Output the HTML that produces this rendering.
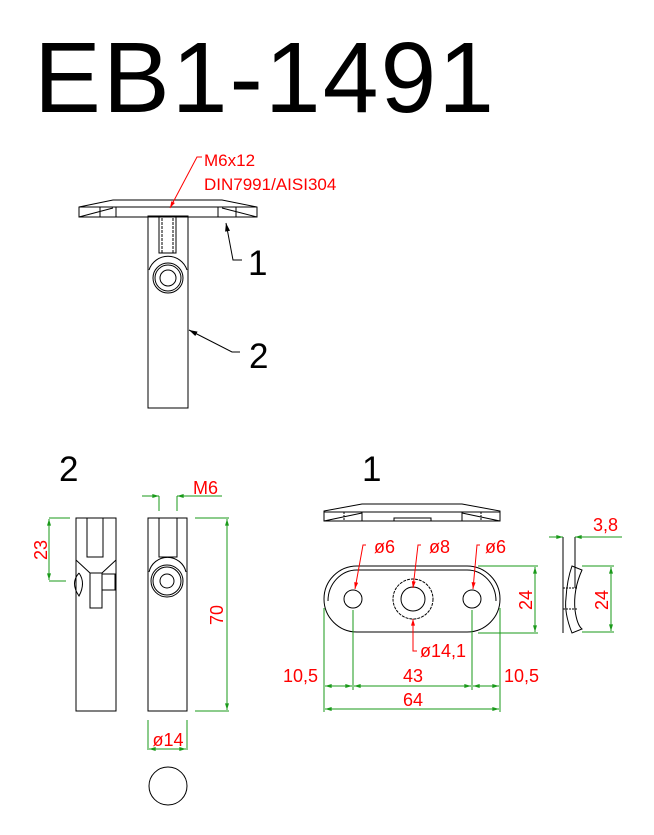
<!DOCTYPE html>
<html><head><style>body{margin:0;background:#fff}svg{display:block}</style></head><body>
<svg width="654" height="835" viewBox="0 0 654 835" xmlns="http://www.w3.org/2000/svg" font-family="Liberation Sans, sans-serif">
<defs>
<marker id="ag" viewBox="0 0 10 6" refX="10" refY="3" markerWidth="8" markerHeight="4" orient="auto-start-reverse"><path d="M0,0L10,3L0,6z" fill="#1a9a1a"/></marker>
<marker id="ar" viewBox="0 0 10 6" refX="10" refY="3" markerWidth="8" markerHeight="4" orient="auto"><path d="M0,0L10,3L0,6z" fill="red"/></marker>
<marker id="ak" viewBox="0 0 10 6" refX="10" refY="3" markerWidth="9" markerHeight="5" orient="auto"><path d="M0,0L10,3L0,6z" fill="#000"/></marker>
</defs>
<text x="34" y="112" font-size="100" letter-spacing="2" fill="#000" textLength="462" lengthAdjust="spacingAndGlyphs">EB1-1491</text>
<!-- top assembly -->
<g fill="none" stroke="#000" stroke-width="1">
<path d="M79,207 L113,200 L222,200 L257,207 L257,217 L79,217 Z"/>
<line x1="79" y1="207" x2="257" y2="207"/>
<path d="M79,217 L113,208 M257,217 L222,208"/>
<line x1="100" y1="207" x2="100" y2="217"/><line x1="116" y1="207" x2="116" y2="217"/>
<line x1="218" y1="207" x2="218" y2="217"/><line x1="236" y1="207" x2="236" y2="217"/>
<rect x="148" y="216" width="40" height="192"/>
<rect x="159" y="216" width="17" height="37"/>
<line x1="162" y1="218" x2="162" y2="253" stroke-dasharray="3,1"/><line x1="173" y1="218" x2="173" y2="253" stroke-dasharray="3,1"/>
<path d="M149,270 A20,20 0 0 1 187,270"/>
<circle cx="168" cy="278" r="15"/><circle cx="168" cy="278" r="13"/><circle cx="168" cy="278" r="8"/>
</g>
<text x="204" y="166" font-size="17" fill="red">M6x12</text>
<text x="204" y="190" font-size="17" fill="red">DIN7991/AISI304</text>
<polyline points="202,157 197,157 170,208" fill="none" stroke="red" marker-end="url(#ar)"/>
<polyline points="242,260 233,260 226,223" fill="none" stroke="#000" marker-end="url(#ak)"/>
<polyline points="240,352 232,352 189,330" fill="none" stroke="#000" marker-end="url(#ak)"/>
<text x="248" y="275" font-size="35">1</text>
<text x="249" y="368" font-size="35">2</text>
<text x="59" y="481" font-size="35">2</text>
<text x="362" y="481" font-size="35">1</text>
<!-- part 2 views -->
<g fill="none" stroke="#000" stroke-width="1">
<rect x="76" y="518" width="40" height="193"/>
<rect x="87" y="518" width="16" height="39"/>
<path d="M76,560 L90,573 L102,573 L116,560"/>
<path d="M79,573 Q70,583 79,596 Q86,583 79,573"/>
<rect x="90" y="573" width="12" height="35"/><rect x="102" y="574" width="13" height="16"/>
<rect x="148" y="518" width="39" height="193"/>
<rect x="159" y="518" width="18" height="39"/>
<path d="M149,572 A19,19 0 0 1 186,572"/>
<circle cx="167" cy="581" r="16"/><circle cx="167" cy="581" r="14"/><circle cx="167" cy="581" r="7"/>
<circle cx="168" cy="786" r="19"/>
</g>
<g stroke="#1a9a1a" fill="none" stroke-width="1">
<line x1="49" y1="518" x2="70" y2="518"/><line x1="49" y1="581" x2="66" y2="581"/>
<line x1="49" y1="519" x2="49" y2="580" marker-start="url(#ag)" marker-end="url(#ag)"/>
<line x1="195" y1="518" x2="229" y2="518"/><line x1="195" y1="711" x2="229" y2="711"/>
<line x1="227" y1="519" x2="227" y2="710" marker-start="url(#ag)" marker-end="url(#ag)"/>
<line x1="159" y1="496" x2="159" y2="511"/><line x1="177" y1="496" x2="177" y2="511"/>
<line x1="142" y1="496" x2="159" y2="496" marker-end="url(#ag)"/><line x1="222" y1="496" x2="177" y2="496" marker-end="url(#ag)"/>
<line x1="148" y1="720" x2="148" y2="750"/><line x1="187" y1="720" x2="187" y2="750"/>
<line x1="149" y1="749" x2="186" y2="749" marker-start="url(#ag)" marker-end="url(#ag)"/>
</g>
<text transform="translate(47,550) rotate(-90)" font-size="18" fill="red" text-anchor="middle">23</text>
<text transform="translate(223,615) rotate(-90)" font-size="18" fill="red" text-anchor="middle">70</text>
<text x="193" y="494" font-size="18" fill="red">M6</text>
<text x="168" y="746" font-size="18" fill="red" text-anchor="middle">ø14</text>
<!-- part 1 -->
<g fill="none" stroke="#000" stroke-width="1">
<path d="M324,511 L362,504 L462,504 L500,511 L500,521 L324,521 Z"/>
<line x1="324" y1="512" x2="500" y2="512"/>
<path d="M324,521 L362,513 M500,521 L462,513"/>
<line x1="344" y1="512" x2="344" y2="521" stroke-dasharray="2,1"/><line x1="362" y1="512" x2="362" y2="521"/>
<line x1="462" y1="512" x2="462" y2="521"/><line x1="481" y1="512" x2="481" y2="521" stroke-dasharray="2,1"/>
<path d="M394,521 L394,518 L431,518 L431,521"/>
<path d="M357,566 L467,566 A33,33 0 0 1 467,632 L357,632 A33,33 0 0 1 357,566 Z"/>
<path d="M357,570 L467,570 A29,31 0 0 1 496,601 M357,570 A29,31 0 0 0 328,601" />
<circle cx="353" cy="599" r="9"/><circle cx="472" cy="599" r="9"/>
<circle cx="413" cy="599" r="12"/><circle cx="413" cy="599" r="20" stroke-dasharray="3,1"/>
<line x1="563" y1="537" x2="563" y2="633"/><line x1="575" y1="537" x2="575" y2="588"/>
<path d="M572,566 L582,570 Q573,590 575,610 Q577,625 582,629 L572,633 Q564,613 566,598 Q567,580 572,566 Z"/>
<line x1="563" y1="588" x2="578" y2="588" stroke-dasharray="2,1"/><line x1="563" y1="609" x2="578" y2="609" stroke-dasharray="2,1"/>
</g>
<g stroke="#1a9a1a" fill="none" stroke-width="1">
<line x1="478" y1="566" x2="538" y2="566"/><line x1="478" y1="633" x2="538" y2="633"/>
<line x1="535" y1="567" x2="535" y2="632" marker-start="url(#ag)" marker-end="url(#ag)"/>
<line x1="324" y1="608" x2="324" y2="712"/><line x1="353" y1="610" x2="353" y2="690"/>
<line x1="472" y1="610" x2="472" y2="690"/><line x1="500" y1="608" x2="500" y2="712"/>
<line x1="325" y1="686" x2="352" y2="686" marker-start="url(#ag)" marker-end="url(#ag)"/>
<line x1="354" y1="686" x2="471" y2="686" marker-start="url(#ag)" marker-end="url(#ag)"/>
<line x1="473" y1="686" x2="499" y2="686" marker-start="url(#ag)" marker-end="url(#ag)"/>
<line x1="325" y1="709" x2="499" y2="709" marker-start="url(#ag)" marker-end="url(#ag)"/>
<line x1="549" y1="537" x2="563" y2="537" marker-end="url(#ag)"/><line x1="622" y1="537" x2="575" y2="537" marker-end="url(#ag)"/>
<line x1="582" y1="566" x2="614" y2="566"/><line x1="582" y1="632" x2="614" y2="632"/>
<line x1="611" y1="567" x2="611" y2="631" marker-start="url(#ag)" marker-end="url(#ag)"/>
</g>
<g stroke="red" fill="none" stroke-width="1">
<polyline points="366,545 363,545 355,589" marker-end="url(#ar)"/>
<polyline points="421,545 418,545 413,588" marker-end="url(#ar)"/>
<polyline points="480,545 477,545 473,589" marker-end="url(#ar)"/>
<polyline points="417,651 413,651 413,619" marker-end="url(#ar)"/>
</g>
<g font-size="18" fill="red">
<text x="374" y="553">ø6</text><text x="429" y="553">ø8</text><text x="485" y="553">ø6</text>
<text x="420" y="657">ø14,1</text>
<text x="283" y="682">10,5</text><text x="413" y="682" text-anchor="middle">43</text><text x="504" y="682">10,5</text>
<text x="413" y="706" text-anchor="middle">64</text>
<text x="593" y="531">3,8</text>
<text transform="translate(532,600) rotate(-90)" text-anchor="middle">24</text>
<text transform="translate(608,600) rotate(-90)" text-anchor="middle">24</text>
</g>
</svg>
</body></html>
